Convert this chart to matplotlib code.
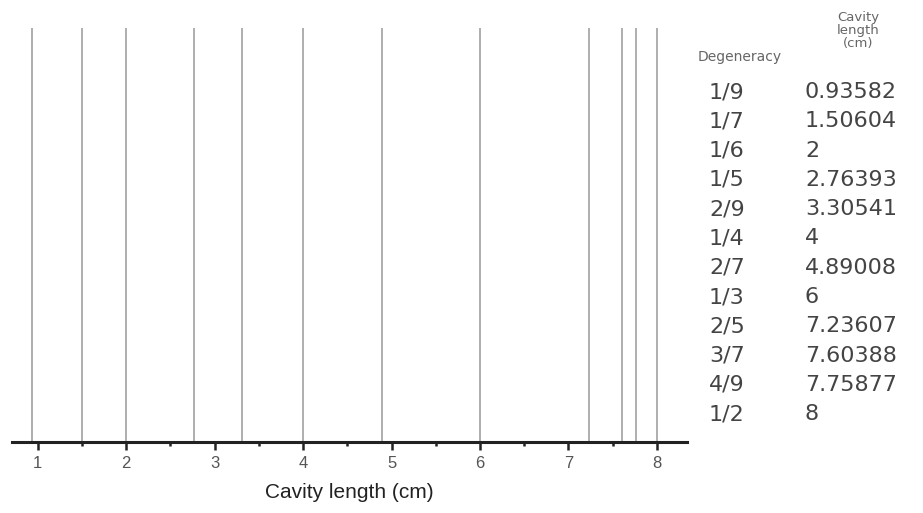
import matplotlib
matplotlib.use('Agg')
import matplotlib.pyplot as plt
from matplotlib.ticker import MultipleLocator

# degeneracy ratios and the matching cavity lengths (cm)
degeneracy = ['1/9', '1/7', '1/6', '1/5', '2/9', '1/4', '2/7', '1/3', '2/5', '3/7', '4/9', '1/2']
cavity_length = [0.93582, 1.50604, 2, 2.76393, 3.30541, 4, 4.89008, 6, 7.23607, 7.60388, 7.75877, 8]
length_labels = ['0.93582', '1.50604', '2', '2.76393', '3.30541', '4', '4.89008', '6',
                 '7.23607', '7.60388', '7.75877', '8']

W, H = 923, 513
fig = plt.figure(figsize=(W / 100, H / 100), dpi=100)
ax = fig.add_axes([12 / W, 1 - 442 / H, (687 - 12) / W, (442 - 28) / H])

for x in cavity_length:
    ax.axvline(x, ymin=0, ymax=1, color='#a8a8a8', lw=1.3)

ax.set_xlim(0.71, 8.34)
ax.set_ylim(0, 1)
for side in ['top', 'left', 'right']:
    ax.spines[side].set_visible(False)
ax.spines['bottom'].set_linewidth(2.2)
ax.spines['bottom'].set_color('#222222')
ax.set_yticks([])
ax.xaxis.set_major_locator(MultipleLocator(1))
ax.xaxis.set_minor_locator(MultipleLocator(0.5))
ax.tick_params(axis='x', which='major', direction='out', length=6, width=1.8,
               color='#222222', labelsize=12, labelcolor='#555555', pad=4)
ax.tick_params(axis='x', which='minor', direction='out', length=3, width=1.8, color='#222222')
for lbl in ax.get_xticklabels():
    lbl.set_fontfamily('Liberation Sans')
ax.set_xlabel('Cavity length (cm)', fontsize=15, labelpad=9,
              fontfamily='Liberation Sans', color='#222222')

# side table
hc = '#666666'
tc = '#444444'
fig.text(740 / W, 1 - 57 / H, 'Degeneracy', ha='center', va='center', fontsize=10, color=hc)
fig.text(858 / W, 1 - 31 / H, 'Cavity\nlength\n(cm)', ha='center', va='center', fontsize=9.5,
         color=hc, linespacing=1.0)
y0, dy = 92, 29.3
for i, (d, s) in enumerate(zip(degeneracy, length_labels)):
    y = 1 - (y0 + i * dy) / H
    fig.text(709 / W, y, d, ha='left', va='center', fontsize=16, color=tc)
    fig.text(805 / W, y, s, ha='left', va='center', fontsize=16, color=tc)

fig.savefig('out.png', dpi=100)
